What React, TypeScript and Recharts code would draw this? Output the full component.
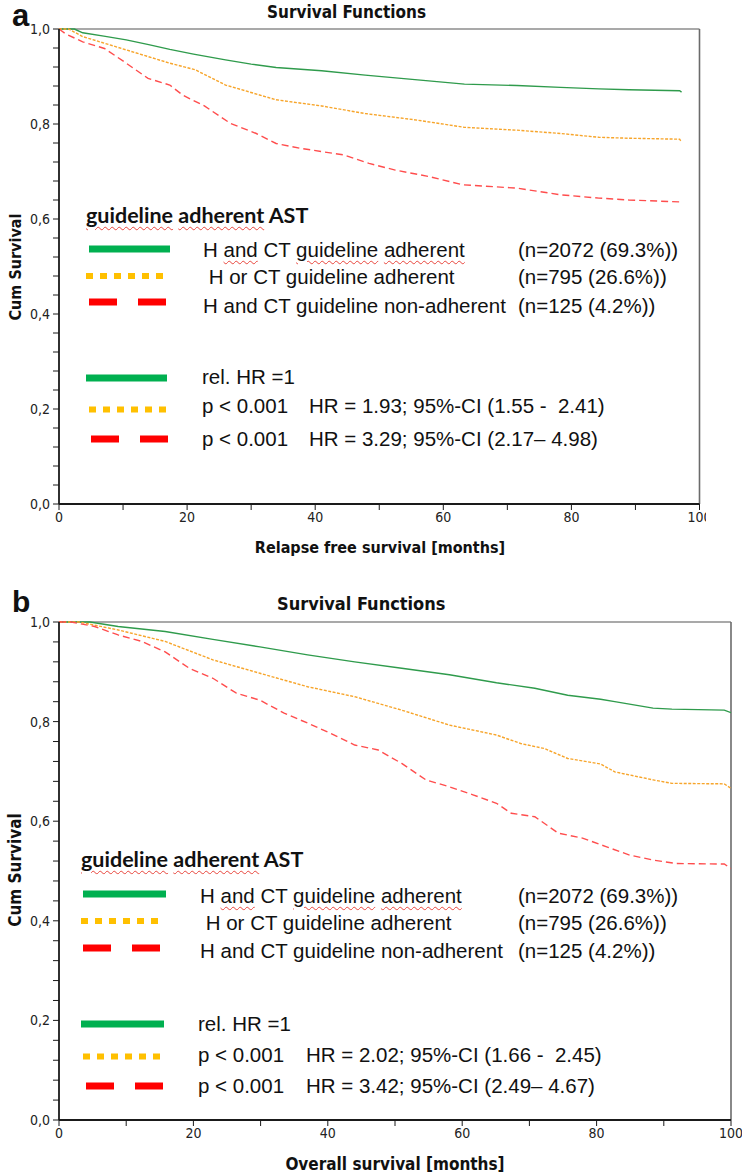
import React from "react"
import { LineChart, Line, XAxis, YAxis, ReferenceLine } from "recharts"

// Panel a: relapse free survival, months vs cumulative survival
const rfsAdherentMonths = [0, 2.4, 3.7, 7, 10.5, 14, 17.3, 21, 26, 30, 33.9, 41, 47.8, 56, 63.3, 71.5, 78.3, 84.3, 89, 96.9, 97.2]
const rfsAdherentSurv = [1, 1, 0.992, 0.985, 0.977, 0.967, 0.957, 0.947, 0.935, 0.926, 0.919, 0.912, 0.903, 0.893, 0.884, 0.881, 0.877, 0.874, 0.872, 0.87, 0.867]
const rfsPartialMonths = [0, 1.5, 3.7, 10.5, 17.3, 21.3, 26, 33.9, 41, 47.8, 56, 63.3, 71.5, 78.3, 84.3, 89, 96.9, 97.2]
const rfsPartialSurv = [1, 1, 0.984, 0.956, 0.928, 0.914, 0.882, 0.851, 0.838, 0.822, 0.808, 0.793, 0.787, 0.78, 0.772, 0.77, 0.768, 0.762]
const rfsNonMonths = [0, 1, 3.7, 7.1, 10.5, 13.9, 17.3, 19.3, 22.7, 26.8, 30.8, 33.9, 37.6, 44.4, 48.4, 52.5, 57.9, 63, 71.5, 78.3, 84.3, 89, 96.9, 97.2]
const rfsNonSurv = [1, 0.99, 0.973, 0.959, 0.928, 0.896, 0.882, 0.861, 0.838, 0.801, 0.78, 0.759, 0.749, 0.735, 0.717, 0.703, 0.689, 0.672, 0.665, 0.651, 0.644, 0.64, 0.636, 0.63]

// Panel b: overall survival
const osAdherentMonths = [0, 4.6, 8.8, 15.8, 22.9, 29.9, 37, 44, 51, 58.1, 65.1, 70.8, 75.7, 80.6, 82.7, 88.4, 91.2, 99, 100]
const osAdherentSurv = [1, 1, 0.991, 0.981, 0.965, 0.95, 0.934, 0.92, 0.907, 0.894, 0.878, 0.867, 0.853, 0.845, 0.84, 0.827, 0.825, 0.823, 0.818]
const osPartialMonths = [0, 3, 8.8, 15.8, 22.9, 29.9, 37, 44, 51, 58.1, 65.1, 68.7, 72.2, 75.7, 80.6, 82.7, 88.4, 91.2, 99, 100]
const osPartialSurv = [1, 1, 0.984, 0.961, 0.924, 0.897, 0.87, 0.85, 0.823, 0.793, 0.773, 0.756, 0.746, 0.726, 0.715, 0.699, 0.683, 0.676, 0.675, 0.666]
const osNonMonths = [0, 1.8, 5.3, 8.8, 12.3, 15.8, 19.4, 22.9, 26.4, 29.9, 33.5, 37, 40.5, 44, 47.5, 51, 54.6, 58.1, 61.6, 65.1, 67.3, 70.8, 74.3, 77.9, 81.4, 84.9, 88.4, 91.9, 99, 100]
const osNonSurv = [1, 1, 0.991, 0.974, 0.961, 0.94, 0.907, 0.887, 0.857, 0.843, 0.817, 0.797, 0.776, 0.753, 0.743, 0.716, 0.683, 0.669, 0.653, 0.636, 0.616, 0.609, 0.576, 0.566, 0.549, 0.532, 0.522, 0.515, 0.514, 0.505]

// axes
const xTicks = [0, 10, 20, 30, 40, 50, 60, 70, 80, 90, 100]
const xTickLabels = ["0", "20", "40", "60", "80", "100"]
const yTicks = [0, 0.04, 0.08, 0.12, 0.16, 0.2, 0.24, 0.28, 0.32, 0.36, 0.4, 0.44, 0.48, 0.52, 0.56, 0.6, 0.64, 0.68, 0.72, 0.76, 0.8, 0.84, 0.88, 0.92, 0.96, 1]
const yTickLabels = ["0,0", "0,2", "0,4", "0,6", "0,8", "1,0"]

// legend text
const groupNames = ["H and CT guideline adherent", " H or CT guideline adherent", "H and CT guideline non-adherent"]
const groupCounts = ["(n=2072 (69.3%))", "(n=795 (26.6%))", "(n=125 (4.2%))"]
const pValues = ["rel. HR =1", "p < 0.001", "p < 0.001"]
const rfsHazards = ["", "HR = 1.93; 95%-CI (1.55 -  2.41)", "HR = 3.29; 95%-CI (2.17\u2013 4.98)"]
const osHazards = ["", "HR = 2.02; 95%-CI (1.66 -  2.45)", "HR = 3.42; 95%-CI (2.49\u2013 4.67)"]

const zip = (t: number[], s: number[]) => t.map((m, i) => ({ month: m, surv: s[i] }))
const rfsSeries = [zip(rfsAdherentMonths, rfsAdherentSurv), zip(rfsPartialMonths, rfsPartialSurv), zip(rfsNonMonths, rfsNonSurv)]
const osSeries = [zip(osAdherentMonths, osAdherentSurv), zip(osPartialMonths, osPartialSurv), zip(osNonMonths, osNonSurv)]

const curveStyles = [
  { stroke: "#2f9b4c", dash: undefined },
  { stroke: "#f7a52b", dash: "3 1.5" },
  { stroke: "#ff4d4d", dash: "7 4" },
]

const NARROW = "'Liberation Sans Narrow', 'DejaVu Sans Condensed', 'Arial Narrow', sans-serif"
const SPSS = "'DejaVu Sans Condensed', 'DejaVu Sans', sans-serif"
const ARIAL = "'Liberation Sans', Arial, sans-serif"

const fmtX = (v: number) => (v % 20 === 0 ? xTickLabels[v / 20] : "")
const fmtY = (v: number) => {
  const k = Math.round(v * 100)
  return k % 20 === 0 ? yTickLabels[k / 20] : ""
}

function KmChart({ series, height, margin }: { series: { month: number; surv: number }[][]; height: number; margin: any }) {
  const tick = { fontSize: 14, fill: "#222", fontFamily: NARROW }
  return (
    <LineChart width={742} height={height} margin={margin}>
      <XAxis
        type="number"
        dataKey="month"
        domain={[0, 100]}
        ticks={xTicks}
        interval={0}
        tickFormatter={fmtX}
        height={30}
        tickSize={6}
        tickMargin={2}
        tick={tick}
        axisLine={{ stroke: "#1a1a1a", strokeWidth: 1.8 }}
        tickLine={{ stroke: "#1a1a1a" }}
        allowDataOverflow
      />
      <YAxis
        type="number"
        domain={[0, 1]}
        ticks={yTicks}
        interval={0}
        tickFormatter={fmtY}
        width={59}
        tickSize={6}
        tickMargin={3}
        tick={tick}
        axisLine={{ stroke: "#1a1a1a", strokeWidth: 1.8 }}
        tickLine={{ stroke: "#1a1a1a" }}
      />
      <ReferenceLine y={1} stroke="#8c8c8c" strokeWidth={1.6} />
      <ReferenceLine x={100} stroke="#6b6b6b" strokeWidth={1.6} />
      {series.map((pts, i) => (
        <Line
          key={i}
          data={pts}
          dataKey="surv"
          type="linear"
          stroke={curveStyles[i].stroke}
          strokeDasharray={curveStyles[i].dash}
          strokeWidth={1.4}
          dot={false}
          activeDot={false}
          isAnimationActive={false}
        />
      ))}
    </LineChart>
  )
}

const wavy: React.CSSProperties = {
  textDecorationLine: "underline",
  textDecorationStyle: "wavy",
  textDecorationColor: "#e8453c",
  textDecorationThickness: "1px",
  textUnderlineOffset: "3px",
}

function Flagged({ text, words }: { text: string; words: string[] }) {
  return (
    <>
      {text.split(/(\s+)/).map((w, i) =>
        words.includes(w) ? (
          <span key={i} style={wavy}>
            {w}
          </span>
        ) : (
          w
        )
      )}
    </>
  )
}

function Txt({ x, cy, children }: { x: number; cy: number; children: React.ReactNode }) {
  return (
    <div
      style={{
        position: "absolute",
        left: x,
        top: cy - 12,
        lineHeight: "24px",
        fontSize: 20.5,
        fontFamily: ARIAL,
        whiteSpace: "pre",
        color: "#111",
      }}
    >
      {children}
    </div>
  )
}

type Row = { sx: number; sw: number; sy: number; ty: number }

function Swatch({ kind, r }: { kind: number; r: Row }) {
  const colors = ["#00b050", "#ffc000", "#ff0000"]
  const dashes = [undefined, "7 7", "28 21"]
  return (
    <line
      x1={r.sx}
      x2={r.sx + r.sw}
      y1={r.sy}
      y2={r.sy}
      stroke={colors[kind]}
      strokeWidth={kind === 1 ? 6 : 7}
      strokeDasharray={dashes[kind]}
    />
  )
}

type LegendLayout = {
  headX: number
  headY: number
  groups: Row[]
  nameX: number
  countX: number
  stats: Row[]
  pX: number
  hrX: number
}

function GroupLegend({ L, hazards }: { L: LegendLayout; hazards: string[] }) {
  return (
    <>
      <svg width={742} height={1176} style={{ position: "absolute", left: 0, top: 0 }}>
        {L.groups.map((r, i) => (
          <Swatch key={"g" + i} kind={i} r={r} />
        ))}
        {L.stats.map((r, i) => (
          <Swatch key={"s" + i} kind={i} r={r} />
        ))}
      </svg>
      <div
        style={{
          position: "absolute",
          left: L.headX,
          top: L.headY - 13,
          lineHeight: "24px",
          fontSize: 21.5,
          fontWeight: 700,
          fontFamily: "Lato, 'Open Sans', sans-serif",
          color: "#111",
          whiteSpace: "pre",
        }}
      >
        <Flagged text="guideline adherent AST" words={["guideline", "adherent"]} />
      </div>
      {L.groups.map((r, i) => (
        <React.Fragment key={"gt" + i}>
          <Txt x={L.nameX} cy={r.ty}>
            <Flagged text={groupNames[i]} words={i === 0 ? ["and", "guideline", "adherent"] : []} />
          </Txt>
          <Txt x={L.countX} cy={r.ty}>
            {groupCounts[i]}
          </Txt>
        </React.Fragment>
      ))}
      {L.stats.map((r, i) => (
        <React.Fragment key={"st" + i}>
          <Txt x={L.pX} cy={r.ty}>
            {pValues[i]}
          </Txt>
          {hazards[i] && (
            <Txt x={L.hrX} cy={r.ty}>
              {hazards[i]}
            </Txt>
          )}
        </React.Fragment>
      ))}
    </>
  )
}

const legendA: LegendLayout = {
  headX: 86,
  headY: 216,
  groups: [
    { sx: 89, sw: 81, sy: 249, ty: 250 },
    { sx: 86, sw: 78, sy: 276, ty: 277 },
    { sx: 89, sw: 77, sy: 302, ty: 305.5 },
  ],
  nameX: 203,
  countX: 518,
  stats: [
    { sx: 86, sw: 81, sy: 378, ty: 377 },
    { sx: 89, sw: 77, sy: 409.5, ty: 406 },
    { sx: 91, sw: 77, sy: 439, ty: 438.5 },
  ],
  pX: 202,
  hrX: 309,
}

const legendB: LegendLayout = {
  headX: 81,
  headY: 859.5,
  groups: [
    { sx: 83, sw: 83, sy: 894, ty: 895.5 },
    { sx: 81, sw: 78, sy: 921, ty: 922.5 },
    { sx: 83, sw: 79, sy: 948, ty: 950.5 },
  ],
  nameX: 200,
  countX: 518,
  stats: [
    { sx: 81, sw: 83, sy: 1024, ty: 1024 },
    { sx: 83, sw: 79, sy: 1056.5, ty: 1054.5 },
    { sx: 86, sw: 79, sy: 1086, ty: 1085.5 },
  ],
  pX: 198,
  hrX: 306,
}

export default function App() {
  return (
    <div style={{ position: "absolute", left: 0, top: 0, width: 742, height: 1176, background: "#fff", overflow: "hidden" }}>
      <div style={{ position: "absolute", left: 0, top: 0, width: 706, height: 560, overflow: "hidden" }}>
        <KmChart series={rfsSeries} height={560} margin={{ top: 29, right: 42.5, bottom: 26, left: 0 }} />
      </div>
      <div style={{ position: "absolute", left: 0, top: 580, width: 742, height: 596, overflow: "hidden" }}>
        <KmChart series={osSeries} height={596} margin={{ top: 42, right: 11, bottom: 26, left: 0 }} />
      </div>

      <svg width={742} height={1176} style={{ position: "absolute", left: 0, top: 0 }}>
        <text x={12} y={26} fontSize={31} fontWeight={700} fontFamily={ARIAL} fill="#111">a</text>
        <text x={267} y={18} fontSize={17} fontWeight={700} fontFamily={SPSS} fill="#111">Survival Functions</text>
        <text x={380} y={553} fontSize={16} fontWeight={700} fontFamily={SPSS} fill="#111" textAnchor="middle">
          Relapse free survival [months]
        </text>
        <text x={21} y={267} fontSize={16} fontWeight={700} fontFamily={SPSS} fill="#111" textAnchor="middle" transform="rotate(-90 21 267)">
          Cum Survival
        </text>

        <text x={12} y={612} fontSize={30} fontWeight={700} fontFamily={ARIAL} fill="#111">b</text>
        <text x={277} y={610} fontSize={18} fontWeight={700} fontFamily={SPSS} fill="#111">Survival Functions</text>
        <text x={395} y={1170} fontSize={17} fontWeight={700} fontFamily={SPSS} fill="#111" textAnchor="middle">
          Overall survival [months]
        </text>
        <text x={21} y={870} fontSize={17} fontWeight={700} fontFamily={SPSS} fill="#111" textAnchor="middle" transform="rotate(-90 21 870)">
          Cum Survival
        </text>
      </svg>

      <GroupLegend L={legendA} hazards={rfsHazards} />
      <GroupLegend L={legendB} hazards={osHazards} />
    </div>
  )
}
